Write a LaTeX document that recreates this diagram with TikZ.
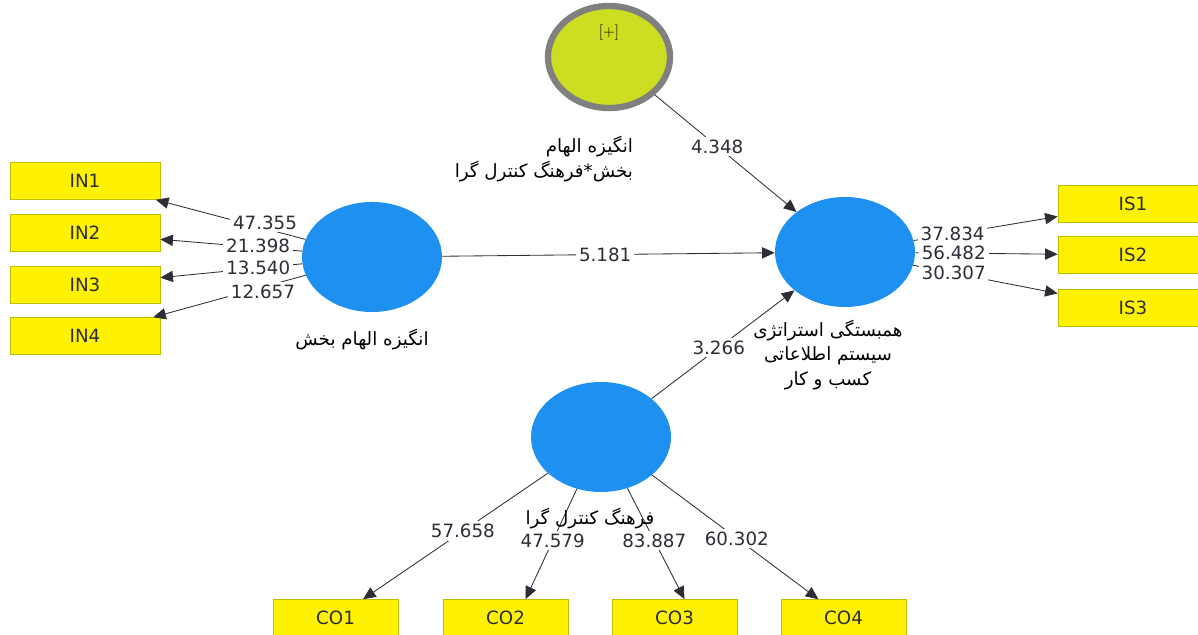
\documentclass[tikz,border=0pt]{standalone}
\usepackage{fontspec}
\newfontfamily\sans{DejaVu Sans}
\newfontfamily\farsi[Script=Arabic]{DejaVu Sans}
\TeXXeTstate=1
\usetikzlibrary{shapes.geometric,arrows.meta}
\definecolor{lvblue}{RGB}{30,144,240}
\definecolor{modgreen}{RGB}{204,221,34}
\definecolor{modgray}{RGB}{128,128,128}
\definecolor{boxline}{RGB}{190,190,0}
\definecolor{ink}{RGB}{45,45,55}

\begin{document}
\begin{tikzpicture}[x=0.025cm,y=-0.025cm,
    lv/.style={ellipse,fill=lvblue,minimum width=3.5cm,minimum height=2.75cm,inner sep=0pt},
    ind/.style={rectangle,draw=boxline,fill=yellow,minimum width=3.75cm,minimum height=0.925cm,inner sep=0pt,text=ink,font=\sans\fontsize{13}{15}\selectfont},
    wt/.style={fill=white,inner sep=2pt,text=ink,font=\sans\fontsize{13}{15}\selectfont},
    link/.style={draw=ink,line width=0.6pt,-{Triangle[length=9pt,width=8pt]}},
    fa/.style={text=black,font=\farsi\fontsize{13}{17.5}\selectfont,align=center}]
    \useasboundingbox (0,0) rectangle (1198,635);

    % latent variables
    \node[lv] (inspire) at (372,257) {};
    \node[lv] (align) at (845,252) {};
    \node[lv] (culture) at (601,437) {};
    \node[ellipse,draw=modgray,line width=4.5pt,fill=modgreen,minimum width=3.05cm,minimum height=2.55cm] (mod) at (609,57) {};
    \node[text=black,font=\fontsize{11}{13}\selectfont] (plus) at (609,33) {[+]};

    % indicators
    \node[ind] (in1) at (85,181) {IN1};
    \node[ind] (in2) at (85,233) {IN2};
    \node[ind] (in3) at (85,285) {IN3};
    \node[ind] (in4) at (85,336) {IN4};
    \node[ind] (is1) at (1133,204) {IS1};
    \node[ind] (is2) at (1133,255) {IS2};
    \node[ind] (is3) at (1133,308) {IS3};
    \node[ind,minimum width=3.125cm] (co1) at (335.5,618) {CO1};
    \node[ind,minimum width=3.125cm] (co2) at (505.5,618) {CO2};
    \node[ind,minimum width=3.125cm] (co3) at (674.5,618) {CO3};
    \node[ind,minimum width=3.125cm] (co4) at (843.5,618) {CO4};

    % structural paths
    \draw[link] (mod) -- node[wt,pos=0.44] {4.348} (align);
    \draw[link] (inspire) -- node[wt,pos=0.49] {5.181} (align);
    \draw[link] (culture) -- node[wt,pos=0.47] {3.266} (align);

    % outer weights
    \draw[link] (inspire) -- node[wt,pos=0.27,yshift=0.15cm] {47.355} (in1);
    \draw[link] (inspire) -- node[wt,pos=0.31,yshift=0.05cm] {21.398} (in2);
    \draw[link] (inspire) -- node[wt,pos=0.31] {13.540} (in3);
    \draw[link] (inspire) -- node[wt,pos=0.28,yshift=-0.12cm] {12.657} (in4);
    \draw[link] (align) -- node[wt,pos=0.27] {37.834} (is1);
    \draw[link] (align) -- node[wt,pos=0.27] {56.482} (is2);
    \draw[link] (align) -- node[wt,pos=0.28] {30.307} (is3);
    \draw[link] (culture) -- node[wt,pos=0.46] {57.658} (co1);
    \draw[link] (culture) -- node[wt,pos=0.47] {47.579} ([xshift=0.5cm]co2.north);
    \draw[link] (culture) -- node[wt,pos=0.47] {83.887} ([xshift=0.25cm]co3.north);
    \draw[link] (culture) -- node[wt,pos=0.51] {60.302} (co4);

    % construct names
    \node[fa] (inspirename) at (362,340) {\beginR انگیزه الهام بخش\endR};
    \node[fa,anchor=east,align=right] (modname) at (638,159) {\beginR انگیزه الهام\endR\\\beginR بخش*فرهنگ کنترل گرا\endR};
    \node[fa] (alignname) at (828,355) {\beginR همبستگی استراتژی\endR\\\beginR سیستم اطلاعاتی\endR\\\beginR کسب و کار\endR};
    \node[fa] (culturename) at (590,519) {\beginR فرهنگ کنترل گرا\endR};
\end{tikzpicture}
\end{document}
